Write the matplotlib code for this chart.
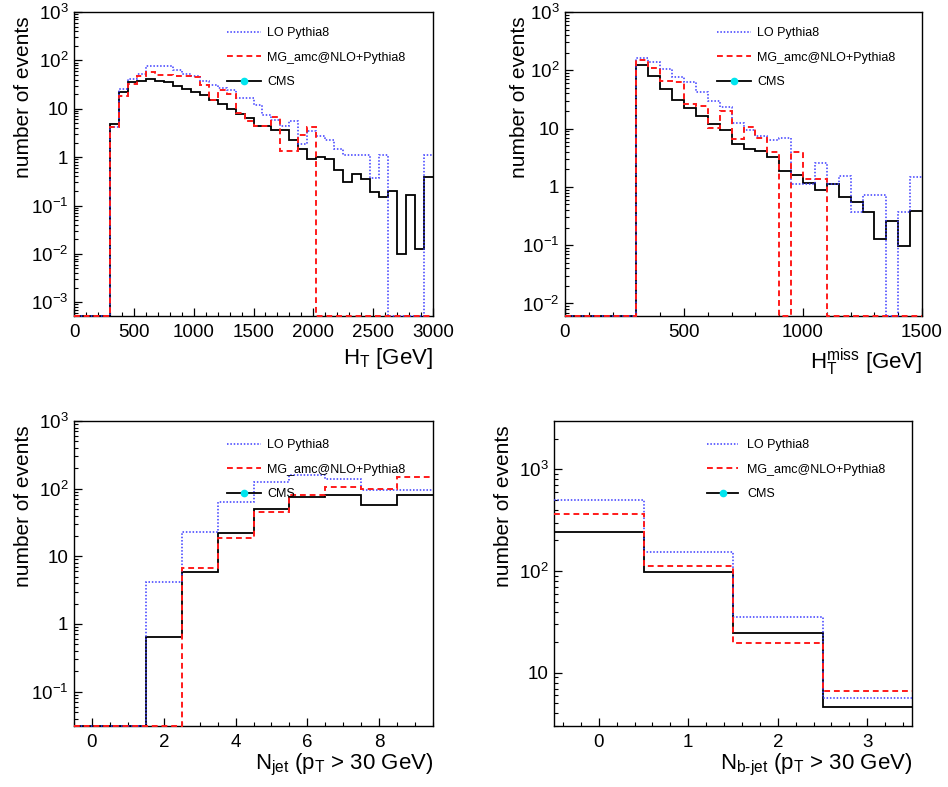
import numpy as np
import matplotlib.pyplot as plt
from matplotlib.lines import Line2D
from matplotlib.ticker import FixedLocator, MultipleLocator, LogLocator, NullFormatter, FuncFormatter

plt.rcParams['font.family'] = ['Liberation Sans', 'DejaVu Sans']
plt.rcParams['mathtext.fontset'] = 'custom'
plt.rcParams['mathtext.rm'] = 'Liberation Sans'
plt.rcParams['mathtext.it'] = 'Liberation Sans:italic'
plt.rcParams['mathtext.bf'] = 'Liberation Sans:bold'

# ---- data: H_T (40 bins of 75 GeV) ----
ht_edges = np.linspace(0, 3000, 41)
ht_lo = [0, 0, 0, 0, 4.1, 25.5, 41.7, 53, 75, 75, 75, 64, 53, 48, 37, 31, 27, 24, 16.4, 17,
         11.7, 7.5, 5.9, 4.4, 5.5, 1.9, 3.4, 2.7, 2.3, 1.5, 1.12, 1.12, 1.12, 0.37, 1.12,
         0, 0, 0, 0, 1.12]
ht_nlo = [0, 0, 0, 0, 4.1, 18, 32, 48, 57, 49, 49, 47, 47, 45, 31, 15.4, 24, 20, 8.1, 5.5,
          4.3, 4.3, 6.9, 1.37, 1.37, 2.8, 4.1, 0, 0, 0, 0, 0, 0, 0, 0,
          0, 0, 0, 0, 0]
ht_cms = [0, 0, 0, 0, 4.8, 22, 36, 37, 42, 37, 35, 30, 26, 22.5, 19, 15.4, 12.3, 10, 7.9, 6.3,
          4.3, 4.3, 3.7, 3.7, 2.3, 1.5, 0.92, 1.03, 0.91, 0.53, 0.30, 0.44, 0.36, 0.19, 0.15,
          0.20, 0.010, 0.166, 0.0126, 0.38]

# ---- data: H_T^miss (30 bins of 50 GeV) ----
mht_edges = np.linspace(0, 1500, 31)
mht_lo = [0, 0, 0, 0, 0, 0, 165, 139, 107, 77, 63, 42.5, 29.8, 23.5, 12.5, 9.6, 7.5, 6.3,
          7.0, 1.11, 1.11, 2.6, 1.11, 1.52, 0.37, 0.74, 0.74, 0, 0.37, 1.48]
mht_nlo = [0, 0, 0, 0, 0, 0, 152, 111, 65, 63, 26.8, 24, 10.4, 20, 6.7, 10.7, 6.9, 4.0,
           0, 4.0, 1.34, 1.34, 0, 0, 0, 0, 0, 0, 0, 0]
mht_cms = [0, 0, 0, 0, 0, 0, 125, 81, 48.5, 30.6, 22.6, 16.5, 12.2, 9.4, 5.4, 4.5, 4.1, 3.27,
           1.88, 1.58, 1.17, 0.88, 1.1, 0.67, 0.54, 0.37, 0.127, 0.26, 0.096, 0.38]

# ---- data: N_jet ----
njet_edges = np.arange(-0.5, 10, 1.0)
njet_lo = [0, 0, 4.1, 23, 63.5, 125, 157, 140, 97, 94]
njet_nlo = [0, 0, 0, 6.8, 18.5, 45, 80, 106, 98, 149]
njet_cms = [0, 0, 0.64, 5.9, 22.4, 50, 76, 81, 57, 81]

# ---- data: N_b-jet ----
nb_edges = np.arange(-0.5, 4, 1.0)
nb_lo = [504, 153, 35.6, 5.6]
nb_nlo = [364, 113, 19.7, 6.6]
nb_cms = [244, 98, 24.7, 4.6]

W, H = 948, 787
fig = plt.figure(figsize=(W / 100, H / 100), dpi=100)

BLUE = '#3a3aff'
RED = '#ff1a1a'


def log_label(v, pos):
    e = int(round(np.log10(v)))
    if e == 0:
        return '1'
    if e == 1:
        return '10'
    return r'$\mathregular{10^{%d}}$' % e


def draw_panel(box, edges, lo, nlo, cms, xlim, ylim, xmaj, xmin, xlabel, leg, ylab_x, xlab_y):
    # box = (left, top, right, bottom) in pixels
    l, t, r, b = box
    ax = fig.add_axes([l / W, 1 - b / H, (r - l) / W, (b - t) / H])
    ax.set_yscale('log')
    ymin = ylim[0]
    # empty bins sit on the lower frame, like ROOT does on a log axis
    ax.stairs(np.clip(cms, ymin, None), edges, baseline=None, color='black',
              lw=1.3, clip_on=False, zorder=2)
    ax.stairs(np.clip(lo, ymin, None), edges, baseline=None, color=BLUE,
              lw=1.1, ls=(0, (1, 1.2)), clip_on=False, zorder=3)
    ax.stairs(np.clip(nlo, ymin, None), edges, baseline=None, color=RED,
              lw=1.4, ls=(0, (3, 2)), clip_on=False, zorder=4)
    ax.set_xlim(*xlim)
    ax.set_ylim(*ylim)

    # ROOT style ticks
    ax.xaxis.set_major_locator(MultipleLocator(xmaj))
    ax.xaxis.set_minor_locator(MultipleLocator(xmin))
    decades = [10.0 ** k for k in range(-4, 5) if ylim[0] <= 10.0 ** k <= ylim[1] * 1.001]
    ax.yaxis.set_major_locator(FixedLocator(decades))
    ax.yaxis.set_major_formatter(FuncFormatter(log_label))
    ax.yaxis.set_minor_locator(LogLocator(base=10, subs=np.arange(2, 10), numticks=20))
    ax.yaxis.set_minor_formatter(NullFormatter())
    ax.tick_params(which='both', direction='in', top=False, right=False, labelsize=13.5)
    ax.tick_params(which='major', length=6, width=0.9)
    ax.tick_params(which='minor', length=3, width=0.8)
    ax.tick_params(axis='x', pad=6)
    ax.tick_params(axis='y', pad=4)
    for s in ax.spines.values():
        s.set_linewidth(1.0)

    ax.set_xlabel(xlabel, fontsize=16, loc='right')
    ax.xaxis.set_label_coords(1.0, xlab_y)
    ax.xaxis.label.set_va('top')
    ax.set_ylabel('number of events', fontsize=15, loc='top')
    ax.yaxis.set_label_coords(ylab_x, 0.985)

    # legend
    handles = [
        Line2D([], [], color=BLUE, lw=1.1, ls=(0, (1, 1.2))),
        Line2D([], [], color=RED, lw=1.4, ls=(0, (3, 2))),
        Line2D([], [], color='black', lw=1.3, marker='o', markersize=4.5,
               markerfacecolor='#00e5ee', markeredgecolor='#00e5ee'),
    ]
    labels = ['LO Pythia8', 'MG_amc@NLO+Pythia8', 'CMS']
    lx, ly, hl, hp = leg
    ax.legend(handles, labels, loc='upper left', bbox_to_anchor=(lx / W, 1 - ly / H),
              bbox_transform=fig.transFigure, frameon=False, fontsize=9,
              borderpad=0, borderaxespad=0, handlelength=hl, handletextpad=hp,
              labelspacing=1.0, numpoints=1)
    return ax


draw_panel((74, 12, 433, 316), ht_edges, ht_lo, ht_nlo, ht_cms, (0, 3000), (5.2e-4, 1000),
           500, 100, r'$\mathregular{H_{T}}$ [GeV]', (227, 27, 2.75, 0.45), -0.113, -0.1)
draw_panel((565, 12, 922, 316), mht_edges, mht_lo, mht_nlo, mht_cms, (0, 1500), (6.1e-3, 1000),
           500, 100, r'$\mathregular{H_{T}^{miss}}$ [GeV]', (717, 27, 2.75, 0.45), -0.1, -0.1)
draw_panel((74, 421, 433, 726), njet_edges, njet_lo, njet_nlo, njet_cms, (-0.5, 9.5), (0.031, 1000),
           2, 0.5, r'$\mathregular{N_{jet}\ (p_{T}}$ > 30 GeV)', (227, 439, 2.75, 0.45), -0.113, -0.085)
draw_panel((554, 421, 912, 726), nb_edges, nb_lo, nb_nlo, nb_cms, (-0.5, 3.5), (3.0, 2985),
           1, 0.2, r'$\mathregular{N_{b\text{-}jet}\ (p_{T}}$ > 30 GeV)', (707, 439, 2.5, 0.7), -0.115, -0.085)

fig.savefig('out.png', dpi=100)
